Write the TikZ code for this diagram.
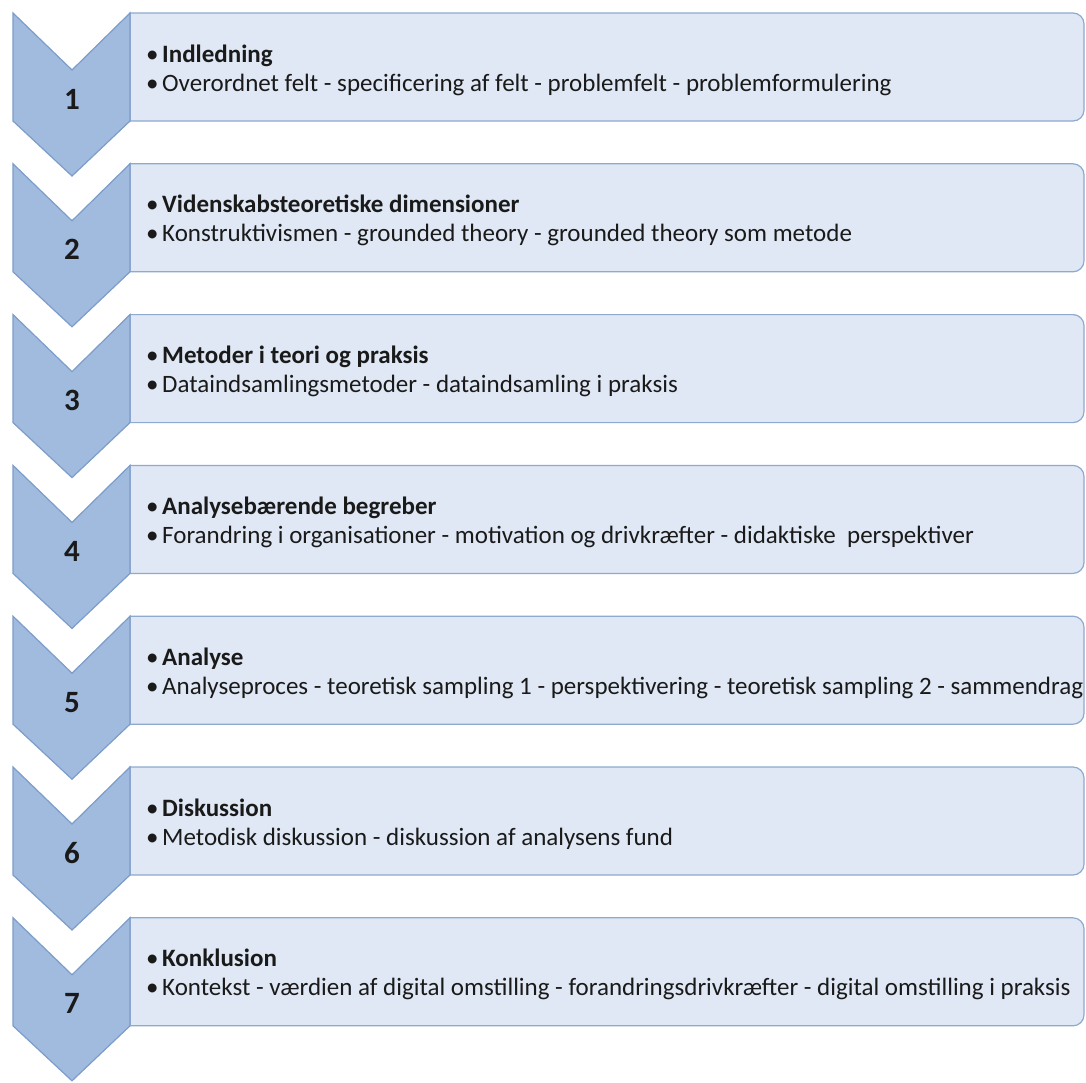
\documentclass[tikz,border=0pt]{standalone}
\usepackage{fontspec}
\setmainfont{Carlito}
\usetikzlibrary{calc}
\definecolor{chevfill}{HTML}{A0BBDE}
\definecolor{chevline}{HTML}{7C9CC9}
\definecolor{boxfill}{HTML}{DFE8F4}
\definecolor{boxline}{HTML}{8FAAD0}
\definecolor{inktext}{HTML}{1A1A1A}
\tikzset{
  stagebox/.style={fill=boxfill, draw=boxline, line width=1.2pt},
  chevron/.style={fill=chevfill, draw=chevline, line width=1.2pt, line join=miter},
  stagenum/.style={font=\fontsize{31}{34}\selectfont\bfseries, text=inktext, inner sep=0pt},
  stagetext/.style={font=\fontsize{25}{29}\selectfont, text=inktext,
    anchor=base west, inner sep=0pt},
}
\newcommand{\bul}[1]{\makebox[16pt][l]{•}#1}
\begin{document}
\begin{tikzpicture}[x=1pt,y=-1pt]
\useasboundingbox (0,0) rectangle (1086,1082);
\fill[white] (0,0) rectangle (1086,1082);
\foreach \i/\title/\body in {
  1/Indledning/{Overordnet felt - specificering af felt - problemfelt - problemformulering},
  2/Videnskabsteoretiske dimensioner/{Konstruktivismen - grounded theory - grounded theory som metode},
  3/Metoder i teori og praksis/{Dataindsamlingsmetoder - dataindsamling i praksis},
  4/Analysebærende begreber/{Forandring i organisationer - motivation og drivkræfter - didaktiske\ \ perspektiver},
  5/Analyse/{Analyseproces - teoretisk sampling 1 - perspektivering - teoretisk sampling 2 - sammendrag},
  6/Diskussion/{Metodisk diskussion - diskussion af analysens fund},
  7/Konklusion/{Kontekst - værdien af digital omstilling - forandringsdrivkræfter - digital omstilling i praksis}}
{
  \pgfmathsetmacro{\t}{13+150.8*(\i-1)}
  % content box, rounded on the right only (y axis points down)
  \path[stagebox] (130,\t) -- (1073,\t) arc[start angle=-90,end angle=0,radius=11]
    -- (1084,\t+97) arc[start angle=0,end angle=90,radius=11]
    -- (130,\t+108) -- cycle;
  \coordinate (box\i) at (130,\t);
  % step chevron
  \path[chevron] (13,\t) -- (72,\t+57) -- (130,\t) -- (130,\t+108)
    -- (72,\t+163) -- (13,\t+108) -- cycle;
  \node[stagenum] (num\i) at (72,\t+86) {\i};
  \node[stagetext] (head\i) at (146,\t+49) {\bul{\textbf{\title}}};
  \node[stagetext] (body\i) at (146,\t+78) {\bul{\body}};
}
\end{tikzpicture}
\end{document}
